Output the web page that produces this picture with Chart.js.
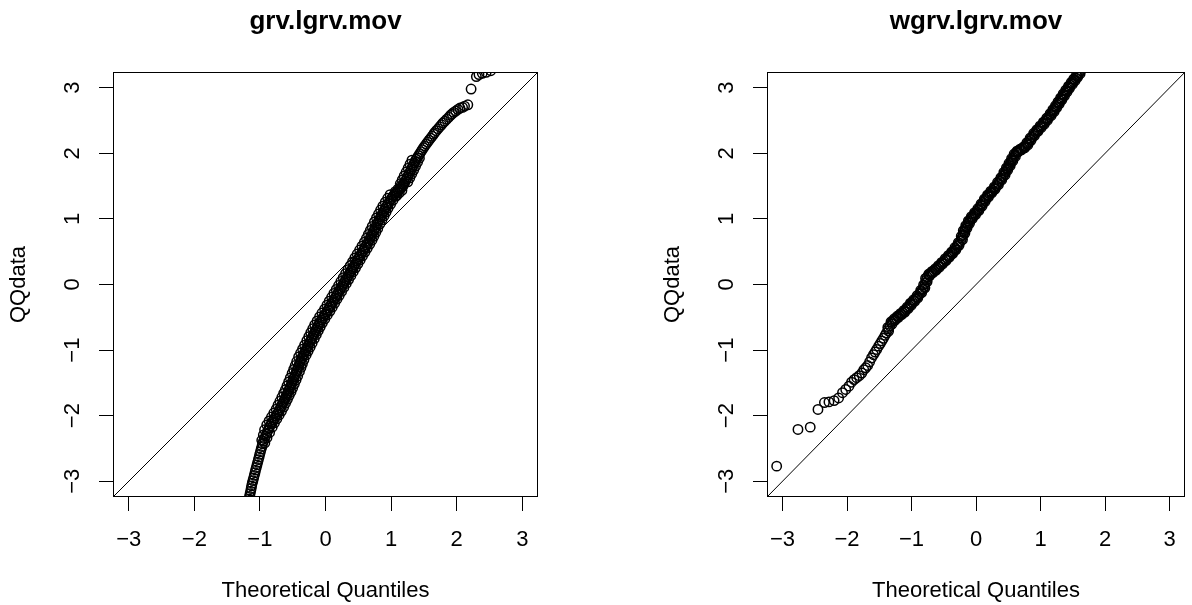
<!DOCTYPE html>
<html>
<head>
<meta charset="utf-8">
<title>QQ plots</title>
<script src="https://cdn.jsdelivr.net/npm/chart.js@4.4.0/dist/chart.umd.min.js"></script>
<style>
  html, body { margin: 0; padding: 0; background: #fff; }
  #wrap { position: relative; width: 1192px; height: 605px; }
  canvas { position: absolute; top: 0; }
  #left { left: 0; }
  #right { left: 596px; }
</style>
</head>
<body>
<div id="wrap">
  <canvas id="left" width="596" height="605"></canvas>
  <canvas id="right" width="596" height="605"></canvas>
</div>
<script>
// axis setup, both panels use the same square range
var axisMin = -3.24;
var axisMax = 3.24;
var tickValues = [-3, -2, -1, 0, 1, 2, 3];
var tickLabels = ['\u22123', '\u22122', '\u22121', '0', '1', '2', '3'];
var xTitle = 'Theoretical Quantiles';
var yTitle = 'QQdata';

// panel 1: grv.lgrv.mov (theoretical quantile, sample quantile)
var grvX = [
  -1.165,-1.158,-1.150,-1.141,-1.133,-1.126,-1.117,-1.106,-1.096,-1.085,
  -1.075,-1.066,-1.055,-1.044,-1.034,-1.023,-1.012,-1.003,-0.992,-0.981,
  -0.970,-0.960,-0.946,-0.930,-0.913,-0.896,-0.879,-0.862,-0.846,-0.828,
  -0.810,-0.792,-0.774,-0.756,-0.738,-0.720,-0.702,
  -0.688,-0.674,-0.659,-0.645,-0.630,-0.616,-0.602,-0.588,-0.575,
  -0.562,-0.550,-0.537,-0.524,-0.512,-0.499,-0.487,-0.474,
  -0.459,-0.447,-0.435,-0.424,-0.412,-0.401,-0.389,-0.378,
  -0.360,-0.345,-0.330,-0.315,-0.300,-0.284,-0.269,-0.254,
  -0.235,-0.220,-0.205,-0.190,-0.175,-0.160,-0.145,-0.130,
  -0.115,-0.097,-0.078,-0.060,-0.041,-0.022,-0.004,
  0.018,0.036,0.054,0.072,0.090,0.107,0.125,0.143,0.161,0.178,
  0.196,0.214,0.231,0.249,0.267,0.284,0.302,0.320,0.337,
  0.355,0.373,0.391,0.408,0.426,0.444,0.462,0.479,
  0.497,0.515,0.533,0.552,0.570,0.588,0.606,0.625,0.643,
  0.659,0.674,0.688,0.703,0.718,0.733,0.747,0.762,
  0.780,0.796,0.811,0.827,0.843,0.858,0.874,0.890,
  0.905,0.924,0.943,0.961,0.980,0.998,1.017,1.035,
  1.055,1.075,1.095,1.115,1.135,1.155,1.175,
  1.190,1.205,1.220,1.235,1.250,1.265,1.280,
  1.295,1.310,1.324,1.339,1.354,1.368,1.382,
  1.400,1.419,1.438,1.457,1.476,1.495,1.512,
  1.535,1.557,1.580,1.602,1.625,1.648,1.664,
  1.690,1.716,1.742,1.768,1.792,
  1.820,1.850,1.880,1.905,1.930,1.955,
  1.985,2.02,2.05,2.09,2.12,2.17,2.22,2.30,2.34,2.39,2.45,2.52
];
var grvY = [
  -3.27,-3.23,-3.19,-3.15,-3.11,-3.07,-3.03,-2.99,-2.95,-2.91,
  -2.87,-2.83,-2.79,-2.75,-2.71,-2.67,-2.63,-2.59,-2.55,-2.51,
  -2.47,-2.43,-2.39,-2.35,-2.31,-2.27,-2.23,-2.19,-2.155,-2.125,
  -2.095,-2.065,-2.035,-2.005,-1.975,-1.945,-1.915,
  -1.885,-1.855,-1.825,-1.795,-1.765,-1.735,-1.705,-1.675,-1.650,
  -1.62,-1.59,-1.56,-1.53,-1.50,-1.47,-1.44,-1.41,
  -1.37,-1.34,-1.31,-1.28,-1.25,-1.22,-1.19,-1.16,
  -1.12,-1.09,-1.06,-1.03,-1.00,-0.97,-0.94,-0.91,
  -0.87,-0.84,-0.81,-0.78,-0.75,-0.72,-0.69,-0.66,
  -0.63,-0.60,-0.57,-0.54,-0.51,-0.48,-0.45,
  -0.42,-0.39,-0.36,-0.33,-0.30,-0.27,-0.24,-0.21,-0.18,-0.15,
  -0.12,-0.09,-0.06,-0.03,0.00,0.03,0.06,0.09,0.12,
  0.15,0.18,0.21,0.24,0.27,0.30,0.33,0.36,
  0.39,0.42,0.45,0.48,0.51,0.54,0.57,0.60,0.63,
  0.66,0.69,0.72,0.75,0.78,0.81,0.84,0.87,
  0.91,0.94,0.97,1.00,1.03,1.06,1.09,1.12,
  1.15,1.18,1.21,1.24,1.27,1.30,1.33,1.355,
  1.375,1.395,1.415,1.435,1.455,1.475,1.495,
  1.52,1.55,1.58,1.61,1.64,1.67,1.70,
  1.73,1.76,1.79,1.82,1.85,1.88,1.91,
  1.935,1.965,1.995,2.025,2.055,2.085,2.11,
  2.14,2.17,2.20,2.23,2.26,2.29,2.315,
  2.345,2.375,2.405,2.435,2.465,
  2.49,2.52,2.55,2.58,2.60,2.625,
  2.645,2.67,2.69,2.70,2.72,2.74,2.98,3.17,3.20,3.22,3.235,3.26
];
// more points inside the thick black band of panel 1 (both sides of its centre)
var grvBandX = [
  -0.925,-0.972,-0.892,-0.948,-0.852,-0.929,-0.812,-0.896,-0.778,-0.860,
  -0.742,-0.824,-0.706,-0.788,-0.670,-0.752,-0.638,-0.724,-0.609,-0.695,
  -0.580,-0.666,-0.552,-0.638,-0.525,-0.612,-0.500,-0.587,-0.474,-0.562,
  -0.449,-0.537,-0.424,-0.509,-0.397,-0.485,-0.374,-0.462,-0.351,-0.439,
  -0.328,-0.410,-0.295,-0.380,-0.265,-0.350,-0.234,-0.319,-0.204,-0.285,
  -0.170,-0.255,-0.140,-0.225,-0.110,-0.195,-0.080,-0.165,-0.047,-0.128,
  -0.010,-0.091,0.028,-0.054,0.068,-0.014,0.104,0.022,0.140,0.057,
  0.175,0.093,0.211,0.128,0.246,0.164,0.281,0.199,0.317,0.234,
  0.352,0.270,0.387,0.305,0.423,0.341,0.458,0.376,0.494,0.412,
  0.529,0.447,0.565,0.483,0.602,0.520,0.638,0.556,0.675,0.593,
  0.709,0.624,0.738,0.653,0.768,0.683,0.797,0.712,0.830,0.746,
  0.861,0.777,0.893,0.808,0.924,0.840,0.955,0.874,0.993,0.911,
  1.030,0.948,1.067,0.985,
  1.065,1.085,1.105,1.125,1.145,1.165,1.185,
  1.140,1.255,1.170,1.285,1.200,1.315,1.230,1.345,1.260,1.374,
  1.289,1.404,1.318,1.432
];
var grvBandY = [
  -2.415,-2.375,-2.335,-2.295,-2.255,-2.215,-2.175,-2.14,-2.11,-2.08,
  -2.05,-2.02,-1.99,-1.96,-1.93,-1.90,-1.87,-1.84,-1.81,-1.78,
  -1.75,-1.72,-1.69,-1.66,-1.635,-1.605,-1.575,-1.545,-1.515,-1.485,
  -1.455,-1.425,-1.395,-1.355,-1.325,-1.295,-1.265,-1.235,-1.205,-1.175,
  -1.145,-1.105,-1.075,-1.045,-1.015,-0.985,-0.955,-0.925,-0.895,-0.855,
  -0.825,-0.795,-0.765,-0.735,-0.705,-0.675,-0.645,-0.615,-0.585,-0.555,
  -0.525,-0.495,-0.465,-0.435,-0.405,-0.375,-0.345,-0.315,-0.285,-0.255,
  -0.225,-0.195,-0.165,-0.135,-0.105,-0.075,-0.045,-0.015,0.015,0.045,
  0.075,0.105,0.135,0.165,0.195,0.225,0.255,0.285,0.315,0.345,
  0.375,0.405,0.435,0.465,0.495,0.525,0.555,0.585,0.615,0.645,
  0.675,0.705,0.735,0.765,0.795,0.825,0.855,0.885,0.925,0.955,
  0.985,1.015,1.045,1.075,1.105,1.135,1.165,1.195,1.225,1.255,
  1.285,1.315,1.345,1.37,
  1.415,1.355,1.455,1.395,1.495,1.435,1.535,
  1.535,1.565,1.595,1.625,1.655,1.685,1.715,1.745,1.775,1.805,
  1.835,1.865,1.895,1.925
];

// panel 2: wgrv.lgrv.mov
var wgrvX = [
  -3.09,-2.76,-2.57,-2.45,-2.35,-2.28,-2.20,-2.13,-2.07,-2.02,
  -1.97,-1.93,-1.89,-1.85,-1.81,-1.77,
  -1.74,-1.71,-1.68,-1.65,-1.62,-1.59,-1.565,-1.54,-1.51,-1.485,
  -1.46,-1.435,-1.41,-1.39,-1.36,-1.335,-1.31,-1.285,-1.26,-1.235,
  -1.21,-1.185,-1.16,-1.135,-1.11,-1.085,-1.06,-1.035,-1.01,-0.985,
  -0.96,-0.935,-0.91,-0.875,-0.85,-0.825,-0.80,-0.785,-0.77,-0.755,
  -0.725,-0.70,-0.675,-0.65,-0.625,-0.60,-0.575,-0.55,-0.525,-0.50,
  -0.47,-0.445,-0.42,-0.395,-0.37,-0.345,-0.32,-0.295,-0.27,-0.24,
  -0.22,-0.20,-0.185,-0.17,-0.15,-0.13,-0.11,-0.09,-0.065,-0.04,
  -0.015,0.01,0.035,0.06,0.085,0.11,0.135,0.16,0.185,0.21,
  0.235,0.26,0.29,0.315,0.34,0.365,0.39,0.42,0.44,0.46,
  0.48,0.50,0.52,0.54,0.56,0.58,0.60,0.62,0.645,0.67,
  0.695,0.72,0.745,0.77,0.795,0.82,0.845,0.87,0.90,0.925,
  0.95,0.975,1.00,1.025,1.05,1.075,1.10,1.13,1.155,1.18,
  1.20,1.22,1.24,1.26,1.28,1.30,1.32,1.34,1.36,1.38,
  1.40,1.42,1.44,1.465,1.485,1.505,1.525,1.545,1.565,1.585,
  1.60,1.62
];
var wgrvY = [
  -2.77,-2.21,-2.175,-1.905,-1.80,-1.79,-1.77,-1.73,-1.65,-1.60,
  -1.55,-1.49,-1.45,-1.42,-1.39,-1.35,
  -1.30,-1.27,-1.235,-1.18,-1.12,-1.07,-1.03,-0.99,-0.94,-0.90,
  -0.86,-0.82,-0.775,-0.74,-0.68,-0.63,-0.58,-0.555,-0.535,-0.51,
  -0.49,-0.47,-0.45,-0.43,-0.41,-0.38,-0.355,-0.33,-0.30,-0.27,
  -0.245,-0.22,-0.19,-0.145,-0.105,-0.07,-0.03,0.02,0.07,0.115,
  0.15,0.17,0.19,0.21,0.23,0.25,0.275,0.30,0.325,0.35,
  0.38,0.405,0.43,0.455,0.485,0.51,0.545,0.58,0.615,0.66,
  0.71,0.76,0.80,0.84,0.88,0.915,0.95,0.99,1.02,1.05,
  1.08,1.11,1.14,1.175,1.21,1.25,1.285,1.32,1.35,1.38,
  1.41,1.435,1.47,1.505,1.54,1.575,1.61,1.65,1.69,1.725,
  1.76,1.795,1.83,1.865,1.90,1.935,1.97,2.01,2.03,2.045,
  2.06,2.075,2.09,2.11,2.145,2.18,2.215,2.25,2.29,2.32,
  2.345,2.375,2.405,2.43,2.46,2.49,2.52,2.555,2.59,2.62,
  2.65,2.68,2.71,2.74,2.77,2.80,2.83,2.86,2.89,2.92,
  2.95,2.98,3.01,3.04,3.07,3.095,3.12,3.15,3.175,3.20,
  3.23,3.26
];
// more points inside the black band of panel 2
var wgrvBandX = [
  -1.355,-1.368,-1.303,-1.318,-1.253,-1.268,-1.203,-1.218,-1.153,-1.168,
  -1.103,-1.118,-1.053,-1.068,-1.003,-1.018,-0.953,-0.968,-0.903,-0.913,
  -0.843,-0.858,-0.793,-0.813,-0.758,-0.783,-0.720,-0.733,-0.668,-0.683,
  -0.618,-0.633,-0.568,-0.583,-0.518,-0.533,-0.465,-0.478,-0.413,-0.428,
  -0.363,-0.378,-0.313,-0.328,-0.263,-0.275,-0.210,-0.230,-0.173,-0.198,
  -0.140,-0.160,-0.100,-0.120,-0.058,-0.073,-0.008,-0.023,0.043,0.028,
  0.093,0.078,0.143,0.128,0.193,0.178,0.243,0.228,0.295,0.283,
  0.348,0.333,0.398,0.385,0.450,0.430,0.490,0.470,0.530,0.510,
  0.570,0.550,0.610,0.590,0.653,0.638,0.703,0.688,0.753,0.738,
  0.803,0.788,0.853,0.838,0.905,0.893,0.958,0.943,1.008,0.993,
  1.058,1.043,1.108,1.095,1.163,1.148,1.210,1.190,1.250,1.230,
  1.290,1.270,1.330,1.310,1.370,1.350,1.410,1.390,1.450,1.433,
  1.495,1.475,1.535,1.515,1.575,1.555,1.613
];
var wgrvBandY = [
  -0.71,-0.655,-0.605,-0.568,-0.545,-0.523,-0.50,-0.48,-0.46,-0.44,
  -0.42,-0.395,-0.368,-0.343,-0.315,-0.285,-0.258,-0.233,-0.205,-0.168,
  -0.125,-0.088,-0.05,-0.005,0.045,0.093,0.133,0.16,0.18,0.20,
  0.22,0.24,0.263,0.288,0.313,0.338,0.365,0.393,0.418,0.443,
  0.47,0.498,0.528,0.563,0.598,0.638,0.685,0.735,0.78,0.82,
  0.86,0.898,0.933,0.97,1.005,1.035,1.065,1.095,1.125,1.158,
  1.193,1.23,1.268,1.303,1.335,1.365,1.395,1.423,1.453,1.488,
  1.523,1.558,1.593,1.63,1.67,1.708,1.743,1.778,1.813,1.848,
  1.883,1.918,1.953,1.99,2.02,2.038,2.053,2.068,2.083,2.10,
  2.128,2.163,2.198,2.233,2.27,2.305,2.333,2.36,2.39,2.418,
  2.445,2.475,2.505,2.538,2.573,2.605,2.635,2.665,2.695,2.725,
  2.755,2.785,2.815,2.845,2.875,2.905,2.935,2.965,2.995,3.025,
  3.055,3.083,3.108,3.135,3.163,3.188,3.215
];

Chart.defaults.font.family = "'Liberation Sans', Arial, sans-serif";
Chart.defaults.color = '#000';

// R style closed box round the plot region
var boxPlugin = {
  id: 'box',
  afterDatasetsDraw: function (chart) {
    var a = chart.chartArea;
    var ctx = chart.ctx;
    ctx.save();
    ctx.strokeStyle = '#000';
    ctx.lineWidth = 1;
    ctx.strokeRect(Math.round(a.left) + 0.5, Math.round(a.top) + 0.5,
      Math.round(a.right - a.left) - 1, Math.round(a.bottom - a.top) - 1);
    ctx.restore();
  }
};

function toPoints(xs, ys) {
  var pts = [];
  for (var i = 0; i < xs.length && i < ys.length; i++) {
    pts.push({ x: xs[i], y: ys[i] });
  }
  return pts;
}

function makeQQ(id, title, xs, ys, bandX, bandY, leftMargin, rightPad, yTitlePad) {
  var pts = toPoints(xs, ys).concat(toPoints(bandX, bandY));
  var tickFont = { size: 22 };
  return new Chart(document.getElementById(id), {
    type: 'scatter',
    data: {
      datasets: [{
        data: pts,
        pointStyle: 'circle',
        pointRadius: 4.7,
        pointHoverRadius: 4.7,
        borderColor: '#000',
        backgroundColor: 'rgba(0,0,0,0)',
        borderWidth: 1.5,
        clip: 0
      }, {
        // y = x reference line
        data: [{ x: axisMin, y: axisMin }, { x: axisMax, y: axisMax }],
        showLine: true,
        pointRadius: 0,
        borderColor: '#000',
        borderWidth: 1,
        clip: 0
      }]
    },
    options: {
      responsive: false,
      animation: false,
      events: [],
      layout: { padding: { left: 0, right: rightPad, top: 0, bottom: 0 } },
      plugins: {
        legend: { display: false },
        tooltip: { enabled: false },
        title: {
          display: true,
          text: title,
          fullSize: false,
          color: '#000',
          font: { size: 26, weight: 'bold' },
          padding: { top: 6, bottom: 34.8 }
        }
      },
      scales: {
        x: {
          type: 'linear',
          min: axisMin,
          max: axisMax,
          afterBuildTicks: function (s) {
            s.ticks = tickValues.map(function (v) { return { value: v }; });
          },
          afterFit: function (s) { s.height = 108; },
          ticks: {
            autoSkip: false,
            maxRotation: 0,
            padding: 16,
            font: tickFont,
            callback: function (v, i) { return tickLabels[i]; }
          },
          grid: { drawOnChartArea: false, drawTicks: true, tickLength: 14, color: '#000' },
          border: { display: false },
          title: { display: true, text: xTitle, font: tickFont, padding: { top: 0, bottom: 1 } }
        },
        y: {
          type: 'linear',
          min: axisMin,
          max: axisMax,
          afterBuildTicks: function (s) {
            s.ticks = tickValues.map(function (v) { return { value: v }; });
          },
          afterFit: function (s) { s.width = leftMargin; },
          ticks: {
            autoSkip: false,
            minRotation: 90,
            maxRotation: 90,
            crossAlign: 'center',
            padding: 14,
            font: tickFont,
            callback: function (v, i) { return tickLabels[i]; }
          },
          grid: { drawOnChartArea: false, drawTicks: true, tickLength: 14, color: '#000' },
          border: { display: false },
          title: { display: true, text: yTitle, font: tickFont, padding: { top: yTitlePad, bottom: 0 } }
        }
      }
    },
    plugins: [boxPlugin]
  });
}

makeQQ('left', 'grv.lgrv.mov', grvX, grvY, grvBandX, grvBandY, 113, 58, 6);
makeQQ('right', 'wgrv.lgrv.mov', wgrvX, wgrvY, wgrvBandX, wgrvBandY, 171, 1, 64);
</script>
</body>
</html>
